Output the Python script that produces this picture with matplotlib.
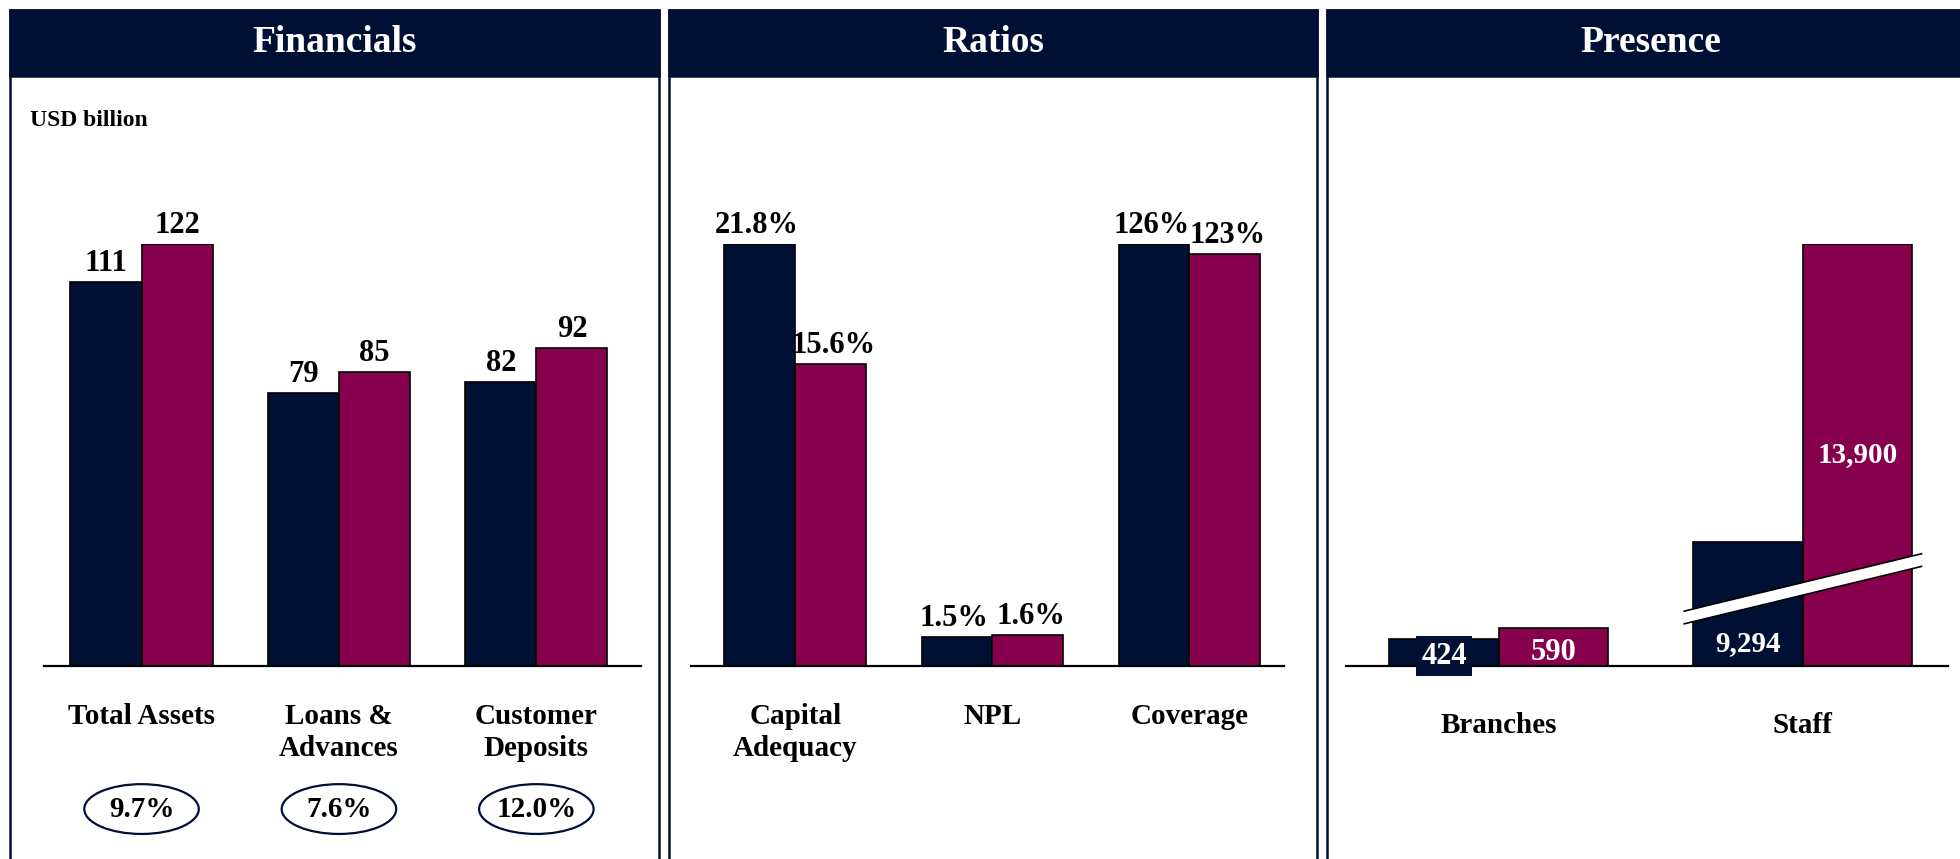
import numpy as np
import matplotlib.pyplot as plt
from matplotlib.patches import Rectangle, Ellipse, Polygon
from matplotlib.transforms import blended_transform_factory

NAVY = "#001035"
MAROON = "#87004D"
W, H = 1960, 859

# Financials (USD billion)
fin_labels = ["Total Assets", "Loans &\nAdvances", "Customer\nDeposits"]
fin_prev = [111, 79, 82]
fin_curr = [122, 85, 92]
fin_growth = ["9.7%", "7.6%", "12.0%"]

# Ratios (%); coverage sits on its own scale
ratio_labels = ["Capital\nAdequacy", "NPL", "Coverage"]
ratio_prev = [21.8, 1.5, 126]
ratio_curr = [15.6, 1.6, 123]

# Presence
pres_labels = ["Branches", "Staff"]
pres_prev = [424, 9294]
pres_curr = [590, 13900]

plt.rcParams["font.family"] = ["Liberation Serif", "DejaVu Serif"]
plt.rcParams["font.weight"] = "bold"

fig = plt.figure(figsize=(W / 100, H / 100), dpi=100)


def px_box(x0, y0, x1, y1):
    # pixel box (origin top-left) -> [left, bottom, width, height] in figure fraction
    return [x0 / W, 1 - y1 / H, (x1 - x0) / W, (y1 - y0) / H]


# ---------------------------------------------------------------------------
# Panel frames and headers
# ---------------------------------------------------------------------------
panels = [(10, 659, "Financials"), (669, 1317, "Ratios"), (1327, 1980, "Presence")]
for x0, x1, title in panels:
    fig.add_artist(Rectangle((x0 / W, -0.05), (x1 - x0) / W, 1.05 - 10 / H,
                             transform=fig.transFigure, fill=False,
                             edgecolor=NAVY, lw=1.8))
    fig.add_artist(Rectangle((x0 / W, 1 - 76 / H), (x1 - x0) / W, 66 / H,
                             transform=fig.transFigure, facecolor=NAVY,
                             edgecolor=NAVY, lw=1.8))
    cx = (x0 + min(x1, 1975)) / 2
    fig.text(cx / W, 1 - 43 / H, title, color="white", fontsize=27,
             ha="center", va="center")

fig.text(30 / W, 1 - 121 / H, "USD billion", fontsize=17, ha="left", va="center")

BAR_W = 0.36


def style_axis(ax, labels, pad):
    for side in ["top", "left", "right"]:
        ax.spines[side].set_visible(False)
    ax.spines["bottom"].set_linewidth(1.6)
    ax.spines["bottom"].set_color("black")
    ax.set_yticks([])
    ax.set_xticks(np.arange(len(labels)))
    ax.set_xticklabels(labels, fontsize=21, fontweight="bold")
    ax.tick_params(axis="x", length=0, pad=pad)
    ax.patch.set_alpha(0)


def pair_bars(ax, x, prev, curr):
    ax.bar(x - BAR_W / 2, prev, BAR_W, color=NAVY, edgecolor="black", lw=1.2)
    ax.bar(x + BAR_W / 2, curr, BAR_W, color=MAROON, edgecolor="black", lw=1.2)


def top_label(ax, x, v, text, dx=0):
    ax.annotate(text, (x, v), xytext=(dx, 3), textcoords="offset points",
                ha="center", va="bottom", fontsize=22)


# ---------------------------------------------------------------------------
# Financials
# ---------------------------------------------------------------------------
ax1 = fig.add_axes(px_box(44, 244, 641, 666))
x = np.arange(len(fin_labels))
pair_bars(ax1, x, fin_prev, fin_curr)
for xi, p, c in zip(x, fin_prev, fin_curr):
    top_label(ax1, xi - BAR_W / 2, p, f"{p:g}")
    top_label(ax1, xi + BAR_W / 2, c, f"{c:g}")
ax1.set_xlim(-0.494, 2.53)
ax1.set_ylim(0, max(fin_curr))
style_axis(ax1, fin_labels, 27)

trans = blended_transform_factory(ax1.transData, ax1.transAxes)
for xi, g in zip(x, fin_growth):
    ax1.add_patch(Ellipse((xi, -0.339), 0.58, 0.118, transform=trans,
                          fill=False, edgecolor=NAVY, lw=1.6, clip_on=False))
    ax1.text(xi, -0.339, g, transform=trans, ha="center", va="center",
             fontsize=21)

# ---------------------------------------------------------------------------
# Ratios
# ---------------------------------------------------------------------------
ax2 = fig.add_axes(px_box(691, 244, 1284, 666))
ax2b = ax2.twinx()
x = np.arange(len(ratio_labels))
pair_bars(ax2, x[:2], ratio_prev[:2], ratio_curr[:2])
pair_bars(ax2b, x[2:], ratio_prev[2:], ratio_curr[2:])
for xi, p, c in zip(x, ratio_prev, ratio_curr):
    a = ax2 if xi < 2 else ax2b
    # nudge neighbouring labels apart so they don't collide
    top_label(a, xi - BAR_W / 2, p, f"{p:g}%", dx=-2)
    top_label(a, xi + BAR_W / 2, c, f"{c:g}%", dx=2)
ax2.set_xlim(-0.53, 2.48)
ax2.set_ylim(0, max(ratio_prev[:2]))
ax2b.set_ylim(0, max(ratio_prev[2:]))
style_axis(ax2, ratio_labels, 27)
for side in ax2b.spines:
    ax2b.spines[side].set_visible(False)
ax2b.set_yticks([])

# ---------------------------------------------------------------------------
# Presence (broken scale for staff)
# ---------------------------------------------------------------------------
brk_in = [-1e6, 1500, 8880, 1e6]
brk_out = [-1e6, 1500, 1510, 1e6 - 7370]


def fwd(v):
    return np.interp(v, brk_in, brk_out)


def inv(u):
    return np.interp(u, brk_out, brk_in)


ax3 = fig.add_axes(px_box(1346, 244, 1948, 666))
ax3.set_yscale("function", functions=(fwd, inv))
x = np.arange(len(pres_labels))
pair_bars(ax3, x, pres_prev, pres_curr)
ax3.set_xlim(-0.502, 1.477)
ax3.set_ylim(0, max(pres_curr))
style_axis(ax3, pres_labels, 33)

# value labels
ax3.annotate(f"{pres_prev[0]:,}", (x[0] - BAR_W / 2, 0), xytext=(0, 7),
             textcoords="offset points", ha="center", va="center",
             color="white", fontsize=22, zorder=5,
             bbox=dict(boxstyle="square,pad=0.18", fc=NAVY, ec="none"),
             annotation_clip=False)
ax3.annotate(f"{pres_curr[0]:,}", (x[0] + BAR_W / 2, 0), xytext=(0, 10),
             textcoords="offset points", ha="center", va="center",
             color="white", fontsize=22)
ax3.annotate(f"{pres_prev[1]:,}", (x[1] - BAR_W / 2, 0), xytext=(0, 16),
             textcoords="offset points", ha="center", va="center",
             color="white", fontsize=21)
ax3.text(x[1] + BAR_W / 2, inv(fwd(pres_curr[1]) / 2), f"{pres_curr[1]:,}",
         ha="center", va="center", color="white", fontsize=21)

# break marker across the staff bars
tb = blended_transform_factory(ax3.transData, ax3.transAxes)
bx = [x[1] - 0.39, x[1] + 0.39]
lo = [0.10, 0.236]
th = 0.03
ax3.add_patch(Polygon([(bx[0], lo[0]), (bx[1], lo[1]), (bx[1], lo[1] + th),
                       (bx[0], lo[0] + th)], closed=True, transform=tb,
                      facecolor="white", edgecolor="none", zorder=4,
                      clip_on=False))
ax3.plot(bx, lo, transform=tb, color="black", lw=1.2, zorder=4, clip_on=False)
ax3.plot(bx, [lo[0] + th, lo[1] + th], transform=tb, color="black", lw=1.2,
         zorder=4, clip_on=False)

fig.savefig("out.png", dpi=100)
